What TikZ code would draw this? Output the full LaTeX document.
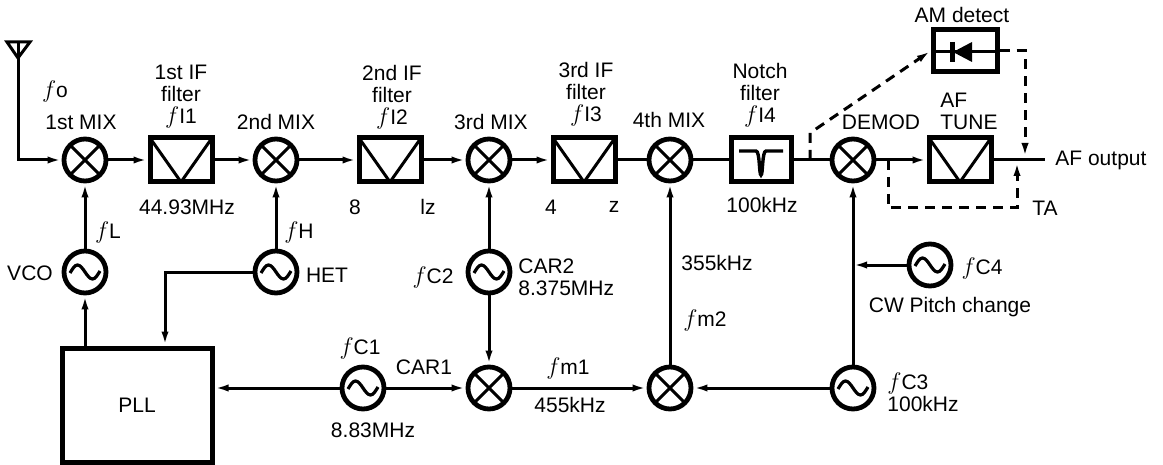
\documentclass[tikz,border=0pt]{standalone}
\usepackage{fontspec}
\setmainfont{Liberation Sans}
\usetikzlibrary{arrows.meta}

\begin{document}
\begin{tikzpicture}[x=0.5pt,y=-0.5pt,>={Latex[length=7pt,width=3.6pt]}]

% Define styles
\tikzstyle{txt}=[font=\fontsize{10.5}{11}\selectfont, inner sep=0pt, align=center]
\tikzstyle{wire}=[line width=1.5pt]
\tikzstyle{link}=[line width=1.5pt, dash pattern=on 5pt off 3.5pt]
\tikzstyle{mixer}=[circle, draw, line width=2.4pt, minimum size=21pt, inner sep=0pt,
  path picture={\draw[line width=1.5pt] (path picture bounding box.south west) -- (path picture bounding box.north east)
    (path picture bounding box.north west) -- (path picture bounding box.south east);}]
\tikzstyle{osc}=[circle, draw, line width=2.4pt, minimum size=21pt, inner sep=0pt,
  path picture={\draw[line width=1.6pt, shift={(path picture bounding box.center)}]
    (-15,1) sin (-7.5,-7) cos (0,0) sin (7.5,7) cos (15,-1);}]
\tikzstyle{filter}=[rectangle, draw, line width=2.5pt, minimum width=31pt, minimum height=22pt, inner sep=0pt,
  path picture={\draw[line width=1.5pt] (path picture bounding box.north west) -- (path picture bounding box.south)
    -- (path picture bounding box.north east);}]
\tikzstyle{notch}=[rectangle, draw, line width=2.5pt, minimum width=30pt, minimum height=22pt, inner sep=0pt,
  path picture={\draw[line width=1.7pt, shift={(path picture bounding box.center)}]
    (-22,-9) -- (-5,-9) .. controls (-1,-9) and (-2,15) .. (0,15) .. controls (2,15) and (1,-9) .. (5,-9) -- (22,-9);}]
\tikzstyle{detector}=[rectangle, draw, line width=2.5pt, minimum width=32pt, minimum height=21pt, inner sep=0pt,
  path picture={\draw[line width=1.5pt, shift={(path picture bounding box.center)}] (-40,1) -- (40,1);
    \fill[shift={(path picture bounding box.center)}] (-12,1) -- (7,-9) -- (7,11) -- cycle;
    \draw[line width=2.5pt, shift={(path picture bounding box.center)}] (-13,-9) -- (-13,11);}]

% Parameters
\def\fr{{\fontsize{13}{11}\selectfont$f$}}

\useasboundingbox (0,0) rectangle (1163,465);

% Mixers
\foreach \name/\x/\y in {mixA/85/160, mixB/276/160, mixC/489/160, mixD/670/160, demod/853/160, mixE/489/388, mixF/670/388}
  \node[mixer] (\name) at (\x,\y) {};

% Oscillators
\foreach \name/\x/\y in {vco/85/272, het/276/272, carB/489/272, carA/363/388, carC/853/388, carD/930/265}
  \node[osc] (\name) at (\x,\y) {};

% Filters
\foreach \name/\x in {filA/181, filB/390, filC/584, tune/960}
  \node[filter] (\name) at (\x,160) {};
\node[notch] (notch) at (761,160) {};
\node[detector] (amdet) at (965,51) {};
\node[txt, draw, line width=2.5pt, minimum width=75pt, minimum height=57pt] (pll) at (137,405) {PLL};

% Antenna and junctions
\coordinate (antTop) at (18,42);
\coordinate (hetBend) at (165,272);
\coordinate (pitchJoin) at (853,265);
\coordinate (amTap) at (810,160);
\coordinate (amBend) at (810,133);
\coordinate (taTap) at (888,160);
\coordinate (taLow) at (888,208);
\coordinate (taJoin) at (1017,162);
\coordinate (amJoin) at (1025,157);
\coordinate (afOut) at (1045,160);
\draw[wire] (7,42) -- (30,42) -- (18,58) -- cycle;

% Signal path
\draw[wire, ->] (antTop) |- (mixA);
\foreach \a/\b in {mixA/filA, filA/mixB, mixB/filB, filB/mixC, mixC/filC, demod/tune}
  \draw[wire, ->] (\a) -- (\b);
\foreach \a/\b in {filC/mixD, mixD/notch, notch/demod, tune/afOut}
  \draw[wire] (\a) -- (\b);

% Local oscillators
\foreach \a/\b in {vco/mixA, het/mixB, carB/mixC, carB/mixE, carA/mixE, mixE/mixF, carC/mixF, mixF/mixD, carC/demod, carD/pitchJoin}
  \draw[wire, ->] (\a) -- (\b);
\draw[wire, ->] (pll.north -| vco) -- (vco);
\draw[wire, ->] (het) -- (hetBend) -- (hetBend |- pll.north);
\draw[wire, ->] (carA) -- (carA -| pll.east);

% AM detect and TA
\draw[link, ->] (amTap) -- (amBend) -- (amdet.west);
\draw[link, ->] (amdet.east) -| (amJoin);
\draw[link, ->] (taTap) -- (taLow) -| (taJoin);

% Labels
\foreach \name/\x/\y/\text in {
  tFo/55/92/{\fr o}, tMixA/81/122/1st MIX, tFilA/181/97/{1st IF\\filter\\\fr I1}, tFreqA/187/207/44.93MHz,
  tMixB/276/122/2nd MIX, tFilB/392/97/{2nd IF\\filter\\\fr I2}, tFreqB/355/207/8, tFreqBb/428/207/lz,
  tMixC/491/122/3rd MIX, tFilC/586/94/{3rd IF\\filter\\\fr I3}, tFreqC/551/207/4, tFreqCc/614/207/z,
  tMixD/669/120/4th MIX, tNotch/760/95/{Notch\\filter\\\fr I4}, tFreqD/762/205/100kHz,
  tDemod/881/122/DEMOD, tAm/962/15/AM detect,
  tFl/108/232/{\fr L}, tVco/30/273/VCO, tFh/299/232/{\fr H}, tHet/327/275/HET, tFcb/433/277/{\fr C2},
  tFca/360/348/{\fr C1}, tCara/424/367/CAR1, tFreqE/373/430/8.83MHz,
  tFma/568/368/{\fr m1}, tFreqF/570/405/455kHz, tFreqG/717/263/355kHz, tFmb/705/320/{\fr m2},
  tFcd/982/268/{\fr C4}, tPitch/950/307/CW Pitch change}
  \node[txt] (\name) at (\x,\y) {\text};
\node[txt, anchor=west, align=left] (tTune) at (940,111) {AF\\TUNE};
\node[txt, anchor=west] (tOut) at (1055,160) {AF output};
\node[txt, anchor=west] (tTa) at (1032,208) {TA};
\node[txt, anchor=west, align=left] (tCarb) at (518,277) {CAR2\\8.375MHz};
\node[txt, anchor=west, align=left] (tFcc) at (887,392) {\fr C3\\100kHz};

\end{tikzpicture}
\end{document}
